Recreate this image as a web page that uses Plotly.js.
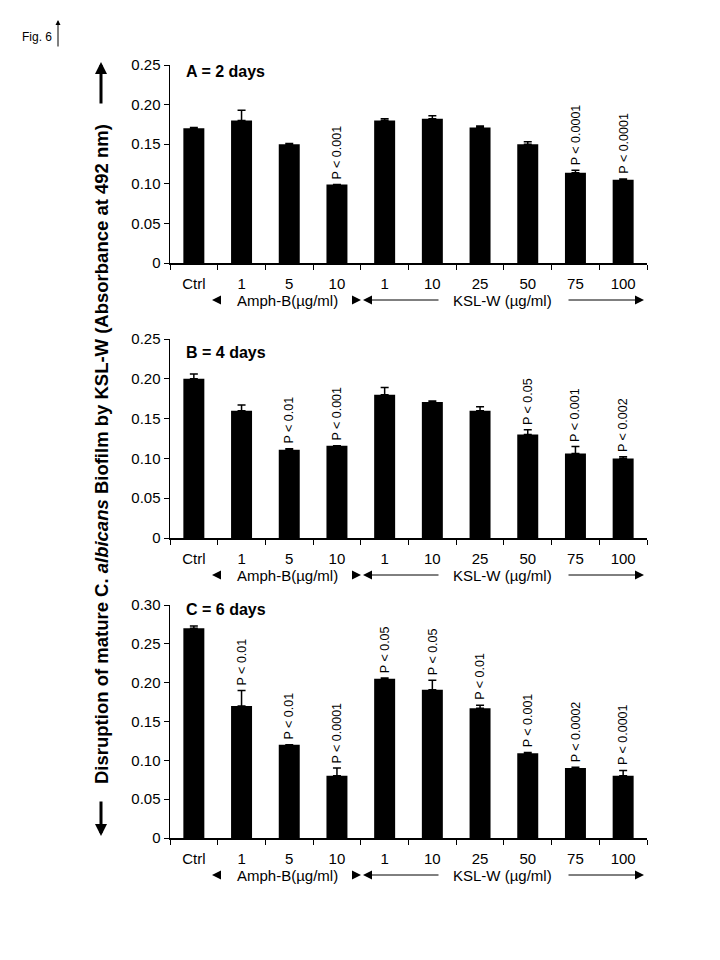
<!DOCTYPE html>
<html>
<head>
<meta charset="utf-8">
<script src="https://cdn.plot.ly/plotly-3.0.1.min.js"></script>
<style>html,body{margin:0;padding:0;background:#fff}#chart{width:720px;height:960px}</style>
</head>
<body>
<div id="chart"></div>
<script>
const categories = ['Ctrl','1','5','10','1','10','25','50','75','100'];

const valuesA = [0.170,0.180,0.150,0.099,0.180,0.182,0.171,0.150,0.114,0.105];
const errorsA = [0.001,0.013,0.001,0.000,0.002,0.004,0.002,0.003,0.003,0.001];
const pLabelsA = ['','','','P < 0.001','','','','','P < 0.0001','P < 0.0001'];

const valuesB = [0.200,0.160,0.111,0.116,0.180,0.171,0.160,0.130,0.106,0.100];
const errorsB = [0.006,0.007,0.001,0.000,0.009,0.001,0.005,0.006,0.009,0.002];
const pLabelsB = ['','','P < 0.01','P < 0.001','','','','P < 0.05','P < 0.001','P < 0.002'];

const valuesC = [0.270,0.170,0.120,0.080,0.205,0.191,0.167,0.109,0.090,0.080];
const errorsC = [0.003,0.020,0.000,0.010,0.001,0.012,0.004,0.001,0.001,0.007];
const pLabelsC = ['','P < 0.01','P < 0.01','P < 0.0001','P < 0.05','P < 0.05','P < 0.01','P < 0.001','P < 0.0002','P < 0.0001'];

const yTickValsAB = [0,0.05,0.10,0.15,0.20,0.25];
const yTickTextAB = ['0','0.05','0.10','0.15','0.20','0.25'];
const yTickValsC = [0,0.05,0.10,0.15,0.20,0.25,0.30];
const yTickTextC = ['0','0.05','0.10','0.15','0.20','0.25','0.30'];

const panelTitles = ['A = 2 days','B = 4 days','C = 6 days'];
const groupLabels = ['Amph-B(\u00b5g/ml)','KSL-W (\u00b5g/ml)'];
const yTitle = 'Disruption of mature C. <i>albicans</i> Biofilm by KSL-W (Absorbance at 492 nm)';
const figLabel = 'Fig. 6';

const W = 720, H = 960;
const px = x => x / W;
const py = y => 1 - y / H;
const FONT = 'Liberation Sans, Arial, sans-serif';

// panel pixel geometry
const panels = [
  {vals: valuesA, errs: errorsA, p: pLabelsA, tv: yTickValsAB, tt: yTickTextAB, ymax: 0.25, top: 65, bottom: 263, titleY: 72},
  {vals: valuesB, errs: errorsB, p: pLabelsB, tv: yTickValsAB, tt: yTickTextAB, ymax: 0.25, top: 339, bottom: 538, titleY: 352},
  {vals: valuesC, errs: errorsC, p: pLabelsC, tv: yTickValsC, tt: yTickTextC, ymax: 0.30, top: 605, bottom: 838, titleY: 609}
];
const xLeft = 170, xRight = 647;
const xIdx = categories.map((c, i) => i);

const data = [];
const layout = {
  width: W, height: H,
  margin: {l: 0, r: 0, t: 0, b: 0},
  paper_bgcolor: '#fff', plot_bgcolor: '#fff',
  showlegend: false,
  font: {family: FONT, color: '#000', size: 15},
  annotations: [],
  shapes: []
};

panels.forEach((pn, k) => {
  const s = k === 0 ? '' : String(k + 1);
  data.push({
    type: 'bar',
    x: xIdx, y: pn.vals,
    xaxis: 'x' + s, yaxis: 'y' + s,
    width: 0.44,
    marker: {color: '#000', line: {width: 0}},
    error_y: {type: 'data', symmetric: false, array: pn.errs, arrayminus: pn.errs.map(() => 0),
              color: '#000', thickness: 1.5, width: 4},
    hoverinfo: 'skip'
  });
  layout['xaxis' + s] = {
    domain: [px(xLeft), px(xRight)], anchor: 'y' + s,
    range: [-0.5, 9.5], fixedrange: true,
    tickmode: 'array', tickvals: xIdx, ticktext: categories,
    ticks: 'outside', ticklen: 6, tickcolor: 'rgba(0,0,0,0)',
    tickfont: {family: FONT, size: 15, color: '#000'},
    minor: {tickmode: 'linear', tick0: -0.5, dtick: 1, ticks: 'outside', ticklen: 5, tickwidth: 1, tickcolor: '#000', showgrid: false},
    showline: true, linecolor: '#000', linewidth: 1.5,
    showgrid: false, zeroline: false
  };
  layout['yaxis' + s] = {
    domain: [py(pn.bottom), py(pn.top)], anchor: 'x' + s,
    range: [0, pn.ymax], fixedrange: true,
    tickmode: 'array', tickvals: pn.tv, ticktext: pn.tt,
    ticks: 'outside', ticklen: 5, tickwidth: 1, tickcolor: '#000',
    tickfont: {family: FONT, size: 15, color: '#000'},
    showline: true, linecolor: '#000', linewidth: 1.5,
    showgrid: false, zeroline: false
  };
  // p-value labels
  pn.p.forEach((t, i) => {
    if (!t) return;
    layout.annotations.push({
      xref: 'x' + s, yref: 'y' + s, x: i, y: pn.vals[i] + pn.errs[i],
      text: t, textangle: -90, showarrow: false,
      xanchor: 'center', yanchor: 'bottom', yshift: 3,
      font: {family: FONT, size: 12.5, color: '#000'}
    });
  });
  // panel title
  layout.annotations.push({
    xref: 'paper', yref: 'paper', x: px(184), y: py(pn.titleY),
    text: '<b>' + panelTitles[k] + '</b>', showarrow: false,
    xanchor: 'left', yanchor: 'middle',
    font: {family: FONT, size: 16, color: '#000'}
  });
  // group labels row
  const rowY = pn.bottom + 37;
  layout.annotations.push({
    xref: 'paper', yref: 'paper', x: px(287.5), y: py(rowY), text: groupLabels[0],
    showarrow: false, xanchor: 'center', yanchor: 'middle', font: {family: FONT, size: 15, color: '#000'}
  });
  layout.annotations.push({
    xref: 'paper', yref: 'paper', x: px(502.5), y: py(rowY), text: groupLabels[1],
    showarrow: false, xanchor: 'center', yanchor: 'middle', font: {family: FONT, size: 15, color: '#000'}
  });
  const arrows = [[212, 222], [361, 352], [363, 440], [644, 567]];
  arrows.forEach(([head, tail]) => {
    layout.annotations.push({
      xref: 'paper', yref: 'paper', x: px(head), y: py(rowY), ax: tail - head, ay: 0,
      text: '', showarrow: true, arrowhead: 2, arrowsize: 1.8, arrowwidth: 1, arrowcolor: '#000'
    });
  });
});

// y title and its arrows
layout.annotations.push({
  xref: 'paper', yref: 'paper', x: px(101), y: py(454),
  text: '<b>' + yTitle + '</b>', textangle: -90, showarrow: false,
  xanchor: 'center', yanchor: 'middle',
  font: {family: FONT, size: 18.5, color: '#000'}
});
layout.annotations.push({
  xref: 'paper', yref: 'paper', x: px(101), y: py(62), ax: 0, ay: 43,
  text: '', showarrow: true, arrowhead: 2, arrowsize: 0.8, arrowwidth: 3, arrowcolor: '#000'
});
layout.annotations.push({
  xref: 'paper', yref: 'paper', x: px(101), y: py(836), ax: 0, ay: -36,
  text: '', showarrow: true, arrowhead: 2, arrowsize: 0.8, arrowwidth: 3, arrowcolor: '#000'
});
// Fig label
layout.annotations.push({
  xref: 'paper', yref: 'paper', x: px(20), y: py(37),
  text: figLabel, showarrow: false, xanchor: 'left', yanchor: 'middle',
  font: {family: FONT, size: 12, color: '#000'}
});
layout.annotations.push({
  xref: 'paper', yref: 'paper', x: px(58), y: py(20), ax: 0, ay: 28,
  text: '', showarrow: true, arrowhead: 2, arrowsize: 1, arrowwidth: 1, arrowcolor: '#000'
});

Plotly.newPlot('chart', data, layout, {staticPlot: true, displayModeBar: false});
</script>
</body>
</html>
